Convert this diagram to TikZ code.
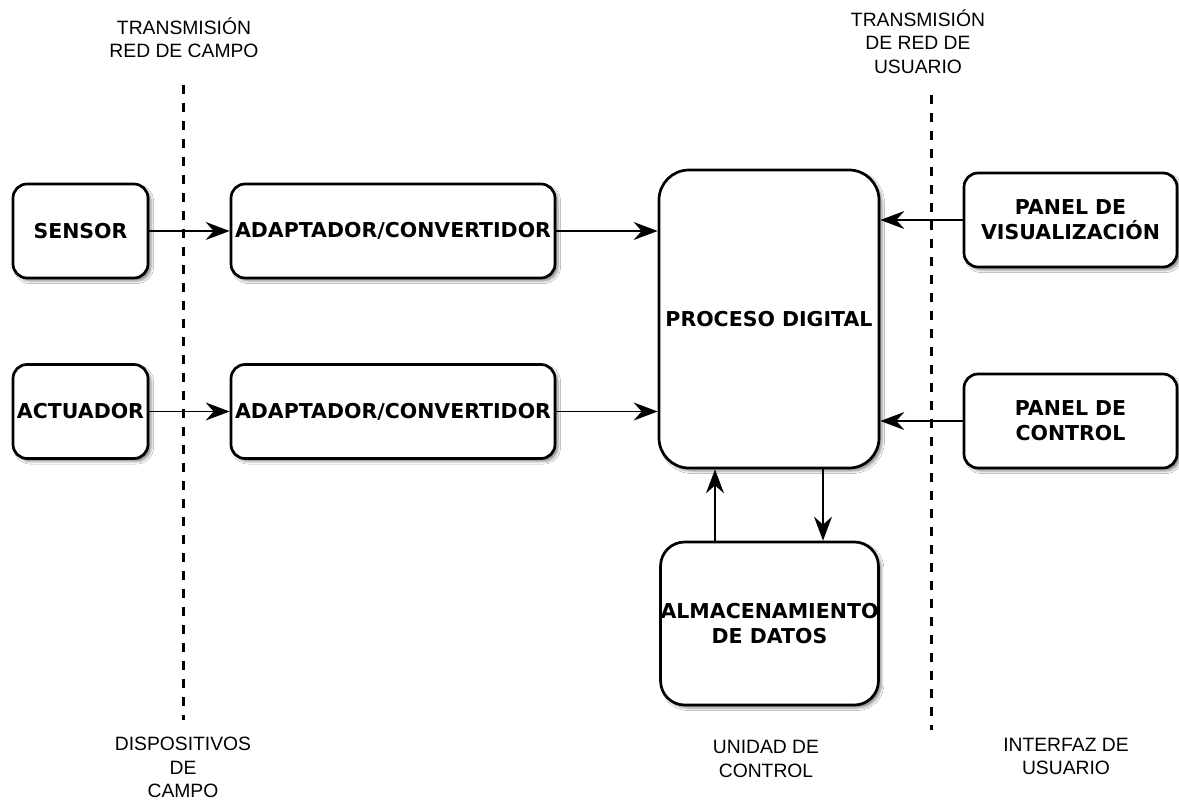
\documentclass[tikz,border=0pt]{standalone}
\usepackage{fontspec}
\setmainfont{Liberation Sans}
\newfontfamily\boxfont{DejaVu Sans}
\usetikzlibrary{arrows.meta,shadows.blur}

\tikzset{
  blk/.style={draw=black, line width=2.7pt, rounded corners=14pt, fill=white,
    align=center, inner sep=0pt,
    font=\boxfont\bfseries\fontsize{20.5}{25}\selectfont,
    blur shadow={shadow xshift=3pt, shadow yshift=-3pt,
      shadow blur radius=2.5pt, shadow opacity=45}},
  lbl/.style={align=center, inner sep=0pt, text=black,
    font=\fontsize{19.3}{23.5}\selectfont},
  flow/.style={line width=1.5pt, -{Stealth[length=24pt, width=18pt, inset=8pt]}},
  sep/.style={line width=3pt, dash pattern=on 9pt off 9pt},
}

\begin{document}
\begin{tikzpicture}[x=1pt, y=-1pt]
  \fill[white] (0,0) rectangle (1179,800);
  \useasboundingbox (0,0) rectangle (1179,800);

  % zone separators
  \coordinate (s1a) at (183,85);
  \coordinate (s1b) at (183,720);
  \coordinate (s2a) at (931,95);
  \coordinate (s2b) at (931,730);
  \draw[sep] (s1a) -- (s1b);
  \draw[sep] (s2a) -- (s2b);

  % zone titles
  \node[lbl] (tl) at (184,37.5) {TRANSMISIÓN\\RED DE CAMPO};
  \node[lbl] (tr) at (918,41.5) {TRANSMISIÓN\\DE RED DE\\USUARIO};
  \node[lbl] (bl) at (183,767.5) {DISPOSITIVOS\\DE\\CAMPO};
  \node[lbl] (bm) at (766,759) {UNIDAD DE\\CONTROL};
  \node[lbl] (br) at (1066,756.5) {INTERFAZ DE\\USUARIO};

  % blocks
  \node[blk, minimum width=135pt, minimum height=94pt] (sensor) at (80.5,231) {SENSOR};
  \node[blk, minimum width=324pt, minimum height=94pt] (ad1) at (393,231) {ADAPTADOR/CONVERTIDOR};
  \node[blk, minimum width=135pt, minimum height=94pt] (act) at (80.5,411.5) {ACTUADOR};
  \node[blk, minimum width=324pt, minimum height=94pt] (ad2) at (393,411.5) {ADAPTADOR/CONVERTIDOR};
  \node[blk, rounded corners=30pt, minimum width=220pt, minimum height=298pt] (proc) at (769,319) {PROCESO DIGITAL};
  \node[blk, minimum width=213pt, minimum height=94pt] (pvis) at (1070.5,220) {PANEL DE\\VISUALIZACIÓN};
  \node[blk, minimum width=213pt, minimum height=94pt] (pctl) at (1070.5,421) {PANEL DE\\CONTROL};
  \node[blk, rounded corners=24pt, minimum width=217pt, minimum height=163pt] (alm) at (769.5,623.5) {ALMACENAMIENTO\\DE DATOS};

  % connections
  \draw[flow] (sensor.east) -- (ad1.west);
  \draw[flow] (act.east) -- (ad2.west);
  \draw[flow] (ad1.east) -- (ad1.east -| proc.west);
  \draw[flow] (ad2.east) -- (ad2.east -| proc.west);
  \draw[flow] (pvis.west) -- (pvis.west -| proc.east);
  \draw[flow] (pctl.west) -- (pctl.west -| proc.east);
  \draw[flow] ([xshift=-54.5pt]alm.north) -- ([xshift=-54.5pt]alm.north |- proc.south);
  \draw[flow] ([xshift=54pt]proc.south) -- ([xshift=54pt]proc.south |- alm.north);
\end{tikzpicture}
\end{document}
